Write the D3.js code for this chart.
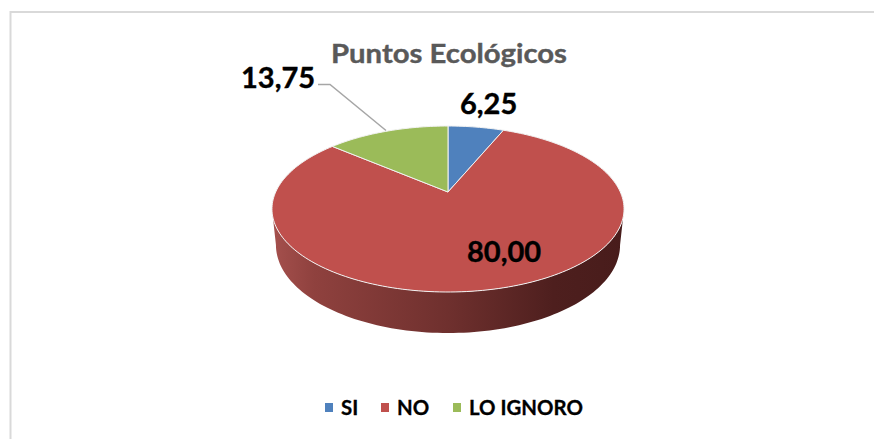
<!DOCTYPE html>
<html lang="es">

<head>
    <meta charset="utf-8" />
    <title>Puntos Ecológicos</title>
    <script src="https://cdnjs.cloudflare.com/ajax/libs/d3/7.1.1/d3.min.js"></script>
    <style type="text/css">
        body {
            margin: 0;
            background: #fff;
        }

        svg {
            display: block;
        }

        text {
            font-family: Lato, "Open Sans", sans-serif;
            font-weight: 700;
        }
    </style>
</head>

<body>
    <div id="chart"></div>
</body>

<script type="text/javascript">

    var title = "Puntos Ecológicos";
    var categories = ["SI", "NO", "LO IGNORO"];
    var values = [6.25, 80.00, 13.75];
    var colors = ["#4f81bd", "#c0504d", "#9bbb59"];
    var valueLabels = ["6,25", "80,00", "13,75"];

    var w = 874;
    var h = 439;

    var svg = d3.select("#chart")
        .append("svg")
        .attr("width", w)
        .attr("height", h);

    // Chart frame, only the top and left edges fall inside the picture
    svg.append("path")
        .attr("d", "M10.5," + h + "V12H" + w)
        .attr("fill", "none")
        .attr("stroke", "#d9d9d9")
        .attr("stroke-width", 2);

    // Tilted disc: a unit circle seen in perspective, so the centre sits above the middle of the ellipse
    var k = 0.205;
    var topDisc = { cx: 448, cy: 192, rx: 172.3, ry: 79.5 };
    var baseDisc = { cx: 448, cy: 227, rx: 168.4, ry: 84.3 };

    function project(disc, angle) {
        var px = Math.sin(angle);
        var py = -Math.cos(angle);
        var d = 1 - k * py;
        return [disc.cx + disc.rx * px / d, disc.cy + disc.ry * py / d];
    }

    function rimPoints(disc, a0, a1) {
        var n = Math.max(2, Math.ceil(Math.abs(a1 - a0) * 40));
        return d3.range(n + 1).map(function (i) {
            return project(disc, a0 + (a1 - a0) * i / n);
        });
    }

    var line = d3.line();

    var defs = svg.append("defs");
    var wallGradient = defs.append("linearGradient")
        .attr("id", "wall")
        .attr("x1", 0).attr("x2", 1).attr("y1", 0).attr("y2", 0);
    [["0%", "#a5504d"], ["12%", "#8f413e"], ["50%", "#6f302e"], ["80%", "#4e1f1e"], ["100%", "#481c1b"]]
        .forEach(function (s) {
            wallGradient.append("stop").attr("offset", s[0]).attr("stop-color", s[1]);
        });

    // Side wall, from the widest point on the right round the front to the widest point on the left
    var sideA = Math.PI / 2 + Math.asin(k);
    var sideB = 3 * Math.PI / 2 - Math.asin(k);
    var wallPoints = rimPoints(topDisc, sideA, sideB)
        .concat(rimPoints(baseDisc, sideB, sideA));

    svg.append("path")
        .attr("d", line(wallPoints) + "Z")
        .attr("fill", "url(#wall)");

    // Slices
    var pie = d3.pie().sort(null).value(function (d) { return d; });
    var slices = pie(values);

    svg.selectAll("path.slice")
        .data(slices)
        .enter()
        .append("path")
        .attr("class", "slice")
        .attr("d", function (d) {
            return line([[topDisc.cx, topDisc.cy]].concat(rimPoints(topDisc, d.startAngle, d.endAngle))) + "Z";
        })
        .attr("fill", function (d, i) { return colors[i]; })
        .attr("stroke", "#f2f2f2")
        .attr("stroke-width", 1)
        .attr("stroke-linejoin", "round");

    // Title
    svg.append("text")
        .attr("x", 449)
        .attr("y", 63)
        .attr("text-anchor", "middle")
        .attr("font-size", 27)
        .attr("textLength", 236)
        .attr("lengthAdjust", "spacingAndGlyphs")
        .attr("fill", "#595959")
        .attr("stroke", "#595959")
        .attr("stroke-width", 0.4)
        .text(title);

    // Leader line of the third slice
    svg.append("path")
        .attr("d", line([[318, 84.5], [330, 84.5], [386, 130.5]]))
        .attr("fill", "none")
        .attr("stroke", "#a6a6a6")
        .attr("stroke-width", 1.5);

    // Value labels
    var labelPos = [[460, 114], [467, 262], [241, 88]];
    svg.selectAll("text.value")
        .data(valueLabels)
        .enter()
        .append("text")
        .attr("class", "value")
        .attr("x", function (d, i) { return labelPos[i][0]; })
        .attr("y", function (d, i) { return labelPos[i][1]; })
        .attr("font-size", 29)
        .attr("fill", "#000")
        .attr("stroke", "#000")
        .attr("stroke-width", 0.4)
        .text(function (d) { return d; });

    // Legend
    var legendX = [325, 381, 453];
    var legend = svg.selectAll("g.legend")
        .data(categories)
        .enter()
        .append("g")
        .attr("class", "legend")
        .attr("transform", function (d, i) { return "translate(" + legendX[i] + ",403)"; });

    legend.append("rect")
        .attr("width", 8)
        .attr("height", 9)
        .attr("fill", function (d, i) { return colors[i]; });

    legend.append("text")
        .attr("x", 16)
        .attr("y", 12)
        .attr("font-size", 20.4)
        .attr("fill", "#000")
        .attr("stroke", "#000")
        .attr("stroke-width", 0.3)
        .text(function (d) { return d; });

</script>

</html>
